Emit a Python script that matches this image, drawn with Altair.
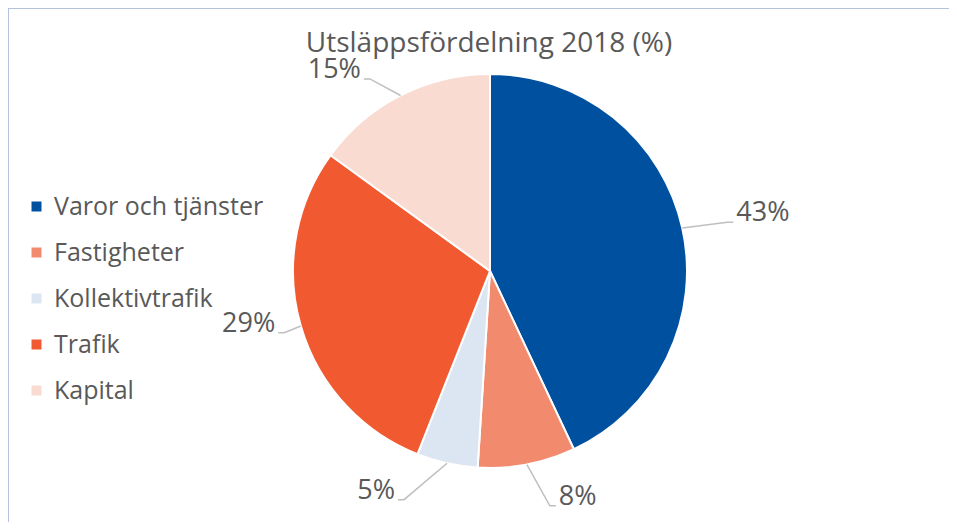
import math
import altair as alt
import pandas as pd

# ---- data ----
TITLE = "Utsläppsfördelning 2018 (%)"
CATEGORIES = ["Varor och tjänster", "Fastigheter", "Kollektivtrafik", "Trafik", "Kapital"]
VALUES = [43, 8, 5, 29, 15]

# ---- style ----
COLORS = ["#0050A0", "#F28A6E", "#DCE6F2", "#F15A31", "#FADBD1"]
TEXT_COLOR = "#595959"
W, H = 941, 514
CX, CY, R = 482, 263, 197
LABEL_RADIUS = [1.23, 1.23, 1.24, 1.09, 1.15]   # elbow radius as share of pie radius
LABEL_NUDGE_DEG = [1, -3.5, 8, -0.5, -5]         # manual label drag (degrees)
TAIL = 6

total = sum(VALUES)
pie_rows, line_rows, label_rows = [], [], []
cum = 0
for i, (cat, val) in enumerate(zip(CATEGORIES, VALUES)):
    pie_rows.append({"cat": cat, "val": val, "idx": i})
    mid = (cum + val / 2) / total * 360
    cum += val
    a = math.radians(mid)
    ex, ey = CX + R * math.sin(a), CY - R * math.cos(a)
    b = math.radians(mid + LABEL_NUDGE_DEG[i])
    lr = R * LABEL_RADIUS[i]
    lx, ly = CX + lr * math.sin(b), CY - lr * math.cos(b)
    side = 1 if math.sin(b) >= 0 else -1
    tx = lx + side * TAIL
    line_rows += [
        {"k": i, "o": 0, "x": ex, "y": ey},
        {"k": i, "o": 1, "x": lx, "y": ly},
        {"k": i, "o": 2, "x": tx, "y": ly},
    ]
    label_rows.append({"label": f"{val}%", "x": tx + side * 3, "y": ly - 9,
                       "side": "R" if side > 0 else "L"})

pie_df = pd.DataFrame(pie_rows)
line_df = pd.DataFrame(line_rows)
label_df = pd.DataFrame(label_rows)

pie = alt.Chart(pie_df).mark_arc(radius=R, stroke="white", strokeWidth=2).encode(
    theta=alt.Theta("val:Q", stack=True),
    order=alt.Order("idx:O"),
    x=alt.value(CX),
    y=alt.value(CY),
    color=alt.Color(
        "cat:N",
        scale=alt.Scale(domain=CATEGORIES, range=COLORS),
        sort=CATEGORIES,
        legend=alt.Legend(
            orient="none", legendX=16, legendY=186, title=None,
            symbolType="square", symbolSize=100, symbolStrokeWidth=0,
            labelFont="Open Sans", labelFontSize=25, labelColor=TEXT_COLOR,
            labelOffset=5, rowPadding=20, padding=0, labelLimit=400,
        ),
    ),
)

lines = alt.Chart(line_df).mark_line(color="#BFBFBF", strokeWidth=1.5).encode(
    x=alt.X("x:Q", scale=None),
    y=alt.Y("y:Q", scale=None),
    detail="k:N",
    order="o:Q",
)

def label_layer(side, align):
    return alt.Chart(label_df).transform_filter(alt.datum.side == side).mark_text(
        align=align, baseline="middle", font="Open Sans", fontSize=27, color=TEXT_COLOR
    ).encode(x=alt.X("x:Q", scale=None), y=alt.Y("y:Q", scale=None), text="label:N")

title = alt.Chart(pd.DataFrame({"t": [TITLE]})).mark_text(
    align="center", baseline="middle", font="Open Sans",
    fontSize=28, color=TEXT_COLOR,
).encode(x=alt.value(481), y=alt.value(36), text="t:N")

border = alt.Chart(pd.DataFrame({"a": [0]})).mark_rule(color="#B4C2E0", strokeWidth=2)
top_border = border.encode(x=alt.value(0), x2=alt.value(W), y=alt.value(0))
left_border = border.encode(x=alt.value(0), y=alt.value(0), y2=alt.value(H))

chart = alt.layer(
    pie, lines, label_layer("R", "left"), label_layer("L", "right"), title,
    top_border, left_border,
).properties(
    width=W, height=H, autosize=alt.AutoSizeParams(type="none"), padding=0,
).configure_view(stroke=None)

chart.save("out.html", embed_options={"renderer": "svg", "actions": False})
